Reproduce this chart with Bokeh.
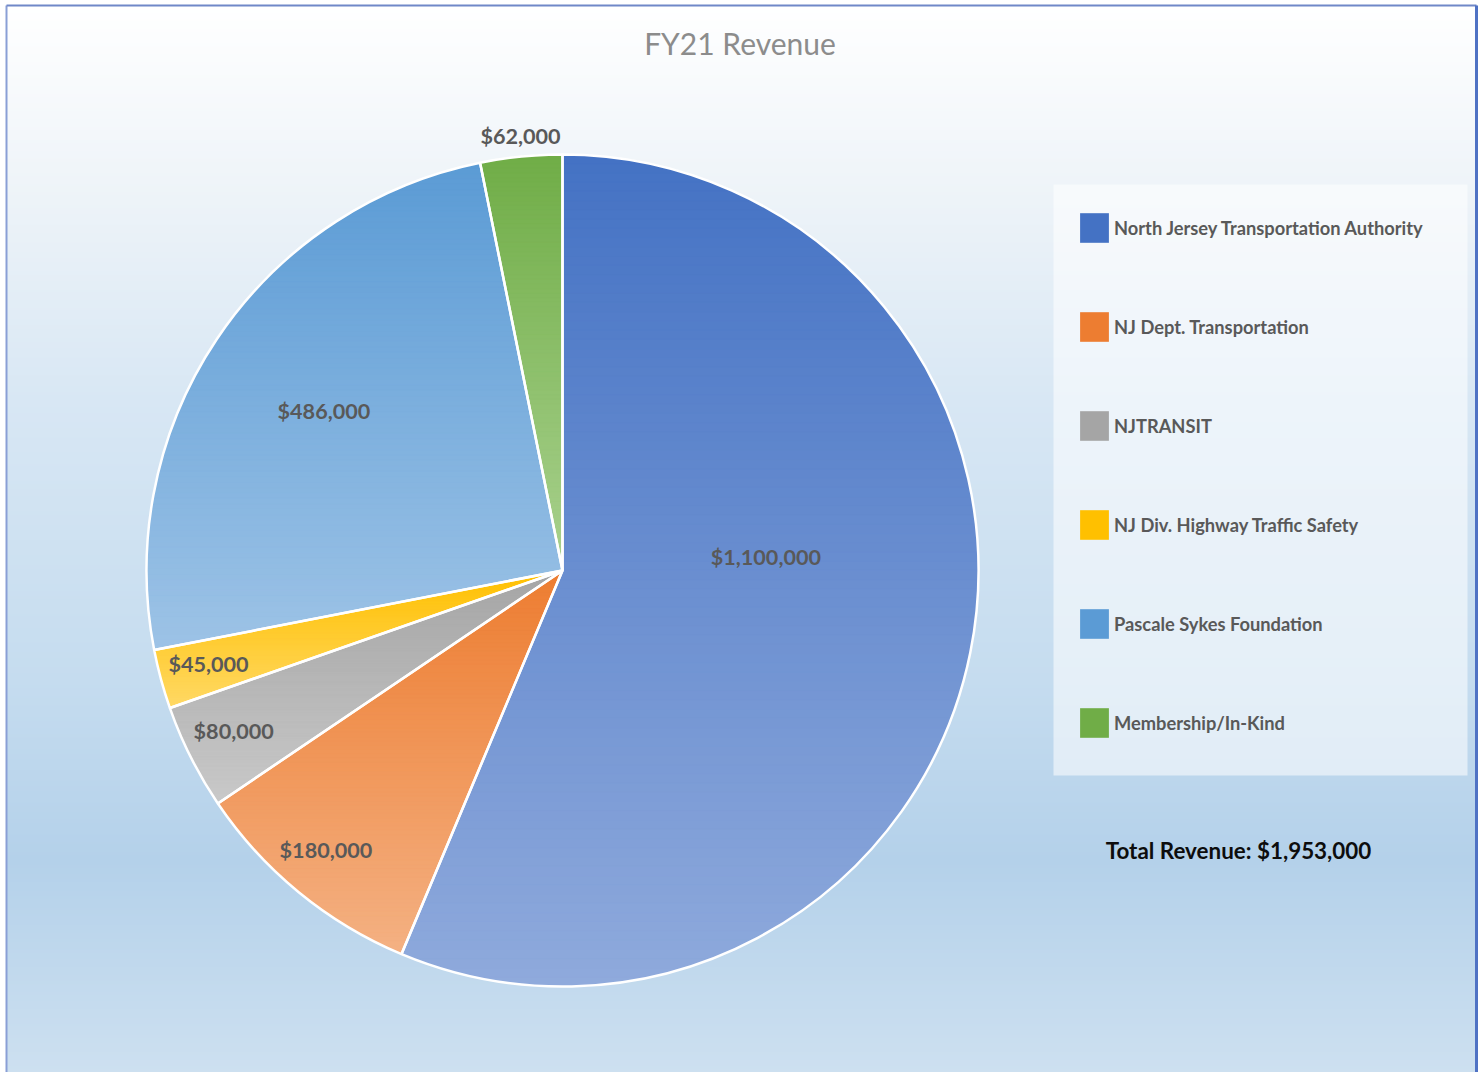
import numpy as np
from bokeh.plotting import figure
from bokeh.models import Range1d, Legend, LegendItem, Label, ColumnDataSource
from bokeh.core.properties import value
from bokeh.embed import file_html
from bokeh.resources import INLINE

# ---------------- data ----------------
categories = ["North Jersey Transportation Authority", "NJ Dept. Transportation", "NJTRANSIT",
              "NJ Div. Highway Traffic Safety", "Pascale Sykes Foundation", "Membership/In-Kind"]
revenue = [1100000, 180000, 80000, 45000, 486000, 62000]
title_text = "FY21 Revenue"

# ---------------- style ----------------
top_colors = ["#4472c4", "#ed7d31", "#a5a5a5", "#ffc000", "#5b9bd5", "#70ad47"]
bottom_colors = ["#8faadc", "#f4b183", "#c9c9c9", "#ffd966", "#9dc3e6", "#a9d18e"]
label_r = [0.49, 0.88, 0.88, 0.88, 0.69, 1.05]
label_da = [-15.3, 0.9, 0.6, 0.4, 0.0, 0.2]

W, H = 1479, 1072
CX, CY, R = 562, H - 570, 416
FONT = "Lato"


def hex2rgb(h):
    h = h.lstrip("#")
    return np.array([int(h[i:i + 2], 16) for i in (0, 2, 4)], dtype=float)


def rgb2hex(c):
    c = np.clip(np.round(c), 0, 255).astype(int)
    return "#%02x%02x%02x" % tuple(c)


p = figure(width=W, height=H, output_backend="svg", toolbar_location=None,
           x_range=Range1d(0, W), y_range=Range1d(0, H), min_border=0)
p.axis.visible = False
p.grid.visible = False
p.outline_line_color = None
p.background_fill_color = "white"
p.border_fill_color = "white"

# ---------------- background gradient ----------------
stops_y = [5, 200, 400, 680, 860, 1072]
stops_c = ["#ffffff", "#edf3f8", "#d8e7f4", "#c5dcef", "#b4d1ea", "#cde0f0"]
bg_top, bg_bot = 5, H
n_rows = bg_bot - bg_top
img = np.zeros((n_rows, 1), dtype=np.uint32)
view = img.view(dtype=np.uint8).reshape((n_rows, 1, 4))
sc = np.array([hex2rgb(c) for c in stops_c])
for row in range(n_rows):
    sy = bg_bot - row - 0.5  # screen y of this row (row 0 = bottom)
    col = np.array([np.interp(sy, stops_y, sc[:, k]) for k in range(3)])
    view[row, 0, :3] = np.round(col).astype(np.uint8)
    view[row, 0, 3] = 255
p.image_rgba(image=[img], x=6, y=0, dw=W - 9, dh=n_rows)

# frame lines
p.segment(x0=[6], y0=[0], x1=[6], y1=[H - 5], line_color="#8a9fd6", line_width=2)
p.segment(x0=[6], y0=[H - 5], x1=[W - 3], y1=[H - 5], line_color="#7088c8", line_width=2)
p.segment(x0=[W - 3], y0=[0], x1=[W - 3], y1=[H - 5], line_color="#4f72c4", line_width=3)

# legend panel background
p.quad(left=[1053], right=[1467], top=[H - 184], bottom=[H - 775],
       fill_color="white", fill_alpha=0.55, line_color=None)

# ---------------- pie ----------------
total = float(sum(revenue))
fracs = [v / total for v in revenue]
cum = np.concatenate([[0.0], np.cumsum(fracs)])
start_deg = [90 - 360 * cum[i] for i in range(len(revenue))]
end_deg = [90 - 360 * cum[i + 1] for i in range(len(revenue))]

src = ColumnDataSource(dict(
    name=categories, value=revenue, color=top_colors,
    start=[np.radians(a) for a in start_deg], end=[np.radians(a) for a in end_deg]))

base = p.wedge(x=CX, y=CY, radius=R, start_angle="start", end_angle="end", direction="clock",
               fill_color="color", line_color=None, source=src)


def clip(poly, y, keep_above):
    out = []
    n = len(poly)
    for i in range(n):
        cur, prev = poly[i], poly[i - 1]
        cin = cur[1] >= y if keep_above else cur[1] <= y
        pin = prev[1] >= y if keep_above else prev[1] <= y
        if cin:
            if not pin:
                t = (y - prev[1]) / (cur[1] - prev[1])
                out.append((prev[0] + t * (cur[0] - prev[0]), y))
            out.append(cur)
        elif pin:
            t = (y - prev[1]) / (cur[1] - prev[1])
            out.append((prev[0] + t * (cur[0] - prev[0]), y))
    return out


bxs, bys, bcs = [], [], []
for i in range(len(revenue)):
    a0, a1 = start_deg[i], end_deg[i]
    npts = max(10, int(abs(a0 - a1) * 3))
    angs = np.radians(np.linspace(a0, a1, npts))
    poly = [(CX, CY)] + [(CX + R * np.cos(a), CY + R * np.sin(a)) for a in angs]
    ys = [q[1] for q in poly]
    ymin, ymax = min(ys), max(ys)
    nb = 90
    edges = np.linspace(ymin, ymax, nb + 1)
    ct, cb = hex2rgb(top_colors[i]), hex2rgb(bottom_colors[i])
    for b in range(nb):
        lo, hi = edges[b], edges[b + 1] + 0.6
        sub = clip(clip(poly, lo, True), hi, False)
        if len(sub) < 3:
            continue
        t = (ymax - 0.5 * (edges[b] + edges[b + 1])) / (ymax - ymin)
        c = rgb2hex(ct + t * (cb - ct))
        bxs.append([q[0] for q in sub])
        bys.append([q[1] for q in sub])
        bcs.append(c)

p.patches(xs=bxs, ys=bys, fill_color=bcs, line_color=bcs, line_width=0.8)

# white slice borders
p.wedge(x=CX, y=CY, radius=R, start_angle="start", end_angle="end", direction="clock",
        fill_alpha=0, line_color="white", line_width=2.5, source=src)

# ---------------- data labels ----------------
lx, ly, lt = [], [], []
for i, v in enumerate(revenue):
    mid = 0.5 * (start_deg[i] + end_deg[i]) - label_da[i]
    lx.append(CX + label_r[i] * R * np.cos(np.radians(mid)))
    ly.append(CY + label_r[i] * R * np.sin(np.radians(mid)))
    lt.append("${:,}".format(v))
p.text(x=lx, y=ly, text=lt, text_align="center", text_baseline="middle",
       text_font=value(FONT), text_font_style="bold", text_font_size="21.6px", text_color="#595959")

# ---------------- title & total ----------------
p.add_layout(Label(x=W / 2, y=H - 42, text=title_text, text_align="center", text_baseline="middle",
                   text_font=FONT, text_font_size="30px", text_color="#8c8c8c"))
p.add_layout(Label(x=1238, y=H - 850, text="Total Revenue: ${:,}".format(int(total)),
                   text_align="center", text_baseline="middle",
                   text_font=FONT, text_font_style="bold", text_font_size="22.4px", text_color="#0d0d0d"))

# ---------------- legend ----------------
items = [LegendItem(label=categories[i], renderers=[base], index=i) for i in range(len(categories))]
legend = Legend(items=items, location=(1053, H - 764), orientation="vertical",
                padding=23, spacing=62, glyph_width=36, glyph_height=37, label_standoff=2,
                label_width=330, label_height=37,
                label_text_font=FONT, label_text_font_style="bold", label_text_font_size="18.3px",
                label_text_color="#595959", label_text_baseline="middle",
                background_fill_alpha=0, border_line_alpha=0, margin=0)
p.add_layout(legend)

open("out.html", "w").write(file_html(p, INLINE))
